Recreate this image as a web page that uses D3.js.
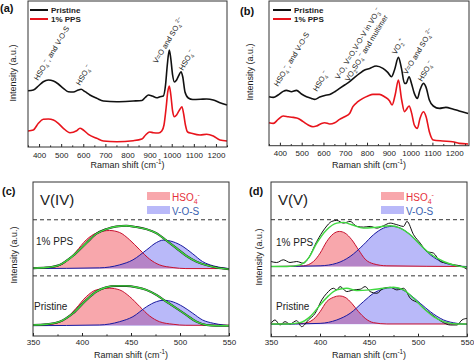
<!DOCTYPE html>
<html>
<head>
<meta charset="utf-8">
<script src="https://cdn.jsdelivr.net/npm/d3@7"></script>
<style>
  body { margin: 0; background: #fff; }
  svg { display: block; font-family: "Liberation Sans", Arial, sans-serif; }
</style>
</head>
<body>
<svg id="fig" width="474" height="363"></svg>
<script>
// ---- data: [Raman shift (cm-1), intensity (a.u.)] ----
const A_PRISTINE = [[350,56.3],[374,57],[397,61],[419,65.3],[442,67],[465,66],[487,63],[510,58.7],[532,55.3],[555,55],[578,57],[590,57.7],[608,55.3],[630,52],[661,48.7],[691,46],[751,45.3],[826,46],[865,46.5],[880,49.5],[895,52],[912,51],[932,49.3],[947,50.3],[962,51],[972,62],[980,82],[989,97],[996,88],[1004,72],[1012,65],[1022,67],[1033,72],[1042,75.3],[1050,70],[1060,55],[1075,49],[1095,47.5],[1130,47.7],[1158,48],[1188,47],[1218,44.3],[1250,42]];
const A_PPS = [[350,16],[374,17],[397,23.7],[419,27.7],[442,28],[465,27],[487,23.7],[510,18.7],[540,14.3],[570,16.3],[585,18.7],[600,17],[623,12.7],[661,8.7],[691,6],[751,5.3],[826,6.3],[865,8],[882,12],[900,15],[917,14.3],[940,14],[955,16],[965,22],[975,40],[982,55],[989,61],[996,52],[1004,36],[1012,30.3],[1022,32],[1035,37],[1046,40.3],[1054,33],[1062,22],[1072,15],[1090,13.7],[1128,12],[1158,12.7],[1188,11],[1218,7],[1250,6]];

const B_PRISTINE = [[350,49],[370,48.3],[392,50.7],[415,54.3],[430,55.3],[453,54],[476,55.3],[499,51.7],[522,49],[545,47.3],[560,46.3],[583,48.7],[606,50.3],[629,51.3],[652,54],[674,57.3],[697,60.7],[720,64],[743,68.3],[766,72.3],[789,75.7],[812,77.3],[842,79.7],[873,77.3],[895,73.3],[912,69],[926,75.7],[944,88.3],[958,77.3],[972,62.3],[979,62.3],[993,69],[1004,62.3],[1017,52.3],[1031,47.3],[1043,55.7],[1059,62.3],[1071,58.3],[1086,45.7],[1104,39.7],[1132,37.3],[1162,38.3],[1193,36.7],[1223,34.7],[1264,32.3]];
const B_PPS = [[350,23],[370,22.3],[392,26.3],[415,29.7],[438,29],[461,28.3],[484,27.3],[507,24],[530,20.7],[552,19],[568,19.7],[591,22.3],[606,23],[629,21.7],[652,23],[674,26.3],[697,29],[720,32.3],[735,39],[758,44],[781,47.3],[804,49.7],[827,51.3],[857,51.3],[880,49],[903,45],[915,40.7],[929,50.7],[944,65.7],[959,45.7],[972,34],[979,35.7],[993,39.7],[1005,32.3],[1017,20.7],[1031,17.3],[1043,27.3],[1059,34],[1071,29],[1086,14],[1104,5.7],[1147,4.7],[1193,4],[1223,2.3],[1264,1.7]];

// (c) V(IV) fits
const C_PPS_HSO4 = [[350,67.7],[370.4,68.7],[384,74.3],[394,84.3],[404.4,96],[414.6,102.7],[428,105.3],[438.4,103.3],[448.6,96],[459,86],[469,76.7],[479,71],[493,68.3],[506,67.3],[550,67.3]];
const C_PPS_VOS = [[350,67.3],[418,68],[438.4,71],[452,76],[466,86],[476,93.3],[483,95.7],[493,94],[503,89.3],[513,82],[523,74.3],[534,70],[544,68],[550,67.3]];
const C_PPS_FIT = [[350,67.7],[363.6,68.3],[377.2,71],[390.8,80],[404.4,92.7],[414.6,102],[424.8,106.7],[435,109.3],[445.2,110],[455.4,108.7],[465.6,106.7],[475.9,102.7],[486.1,95.3],[496.3,87.7],[506.5,80],[516.7,74.3],[526.9,70.7],[537.1,68.3],[550,66.7]];
const C_PRI_HSO4 = [[350,10.7],[370.4,12],[384,17.7],[394,27.7],[404.4,39.3],[414.6,46],[428,47.7],[438.4,46],[448.6,39.3],[459,29.3],[469,20],[479,14.3],[493,11.7],[506,10.7],[550,10.7]];
const C_PRI_VOS = [[350,10.3],[418,11],[438.4,14.3],[452,19.3],[466,29.3],[476,34.3],[483,35.7],[493,34],[503,29.3],[513,22.7],[523,16],[534,12.7],[544,11],[550,10.3]];
const C_PRI_FIT = [[350,11],[363.6,11.7],[377.2,14.3],[390.8,22.7],[404.4,36],[414.6,44.3],[424.8,48.7],[435,50],[445.2,50],[455.4,48.7],[465.6,46],[475.9,41],[486.1,34.3],[496.3,27.7],[506.5,21],[516.7,14.3],[526.9,11],[537.1,10.3],[550,10.3]];

// (d) V(V) fits
const D_PPS_HSO4 = [[350,70],[383,70.7],[393.3,75],[400.1,83.3],[406.9,95],[413.7,102.7],[419.8,105],[425.6,103.3],[432.4,96.7],[439.3,86.7],[446.1,77.3],[454.6,72.7],[468.2,70.7],[550,70]];
const D_PPS_VOS = [[350,70],[400.1,70.7],[417.1,73.3],[430.7,80],[444.4,91.7],[454.6,101.7],[464.8,108.3],[473.3,110],[481.9,108.3],[492.1,101.7],[502.3,91.7],[512.5,81.7],[526.1,74],[539.8,70.7],[550,70]];
const D_PPS_FIT = [[350,70],[366,70],[379.6,71.7],[388.2,78.3],[396.7,93.3],[406.9,106.7],[417.1,113.3],[423.9,114],[432.4,111.7],[444.4,108.3],[458,109.3],[471.6,110.7],[481.9,108.3],[492.1,101.7],[502.3,91.7],[512.5,82.7],[526.1,75],[539.8,70.7],[550,69.3]];
const D_PPS_DATA = [[350,75],[355.8,74],[362.6,76.7],[369.4,74],[376.2,75],[383,73.3],[388.2,78.3],[396.7,95],[405.2,108.3],[412,115],[417.1,116],[423.9,113.3],[430.7,115],[437.6,110],[444.4,109.3],[451.2,110],[458,108.3],[464.8,110.7],[471.6,113.3],[478.4,111.7],[485.3,110],[488.7,115],[495.5,101.7],[502.3,93.3],[509.1,85],[515.9,83.3],[522.7,75],[529.5,73.3],[536.4,71.7],[543.2,70.7],[550,67.3]];
const D_PRI_HSO4 = [[350,12.7],[383,13.3],[393.3,17.3],[400.1,25],[406.9,35],[413.7,39.3],[419.8,40.7],[425.6,39.3],[432.4,33.3],[439.3,25],[446.1,18.3],[454.6,14],[468.2,12.7],[550,12.7]];
const D_PRI_VOS = [[350,12.3],[400.1,13.3],[417.1,16.7],[430.7,23.3],[444.4,35],[454.6,43.3],[464.8,47.7],[473.3,49],[481.9,47.7],[492.1,41.7],[502.3,33.3],[512.5,25],[526.1,16.7],[539.8,13.3],[550,12.3]];
const D_PRI_FIT = [[350,12.7],[366,12.7],[379.6,14],[389.9,20],[400.1,31.7],[408.6,40.7],[417.1,46.7],[427.3,48.3],[437.6,46],[451.2,46.7],[464.8,48.3],[475,49.3],[485.3,46.7],[495.5,38.3],[505.7,28.3],[515.9,20],[526.1,15],[539.8,12.7],[550,12.7]];
const D_PRI_DATA = [[350,13.3],[354.1,16.7],[359.2,11.7],[364.3,15],[369.4,12.7],[376.2,16],[381.3,10],[388.2,16.7],[395,23.3],[401.8,36.7],[406.9,43.3],[413.7,48.3],[417.1,46.7],[420.5,50],[427.3,45],[434.1,46.7],[441,47.3],[446.1,50],[451.2,45],[458,43.3],[464.8,48.3],[471.6,49.3],[478.4,46.7],[485.3,48.3],[492.1,38.3],[500.6,33.3],[505.7,28.3],[512.5,23.3],[519.3,18.3],[526.1,14],[533,11.7],[539.8,11.7],[544.9,16.7],[550,18.3]];

const TOP_TICKS = [400, 500, 600, 700, 800, 900, 1000, 1100, 1200];
const TOP_MINOR = [350, 450, 550, 650, 750, 850, 950, 1050, 1150, 1250];
const FIT_TICKS = [350, 400, 450, 500, 550];
const FIT_MINOR = [375, 425, 475, 525];

const C_DASHES = [116, 60];
const D_DASHES = [116.7, 60.7];

const RED = '#e8141c';
const svg = d3.select('#fig');

// text with sub/superscript pieces
function rich(sel, parts, size) {
  let cur = 0;
  parts.forEach(([t, m]) => {
    const off = m === 'sub' ? size * 0.3 : m === 'sup' ? -size * 0.4 : 0;
    sel.append('tspan')
      .attr('dy', off - cur)
      .attr('font-size', m ? size * 0.7 : size)
      .text(t);
    cur = off;
  });
  return sel;
}

function makeScales(box) {
  const x = d3.scaleLinear().domain(box.x).range([box.left, box.right]);
  const y = d3.scaleLinear().domain(box.y).range([box.bottom, box.top]);
  return { x, y };
}

function drawAxisFrame(g, box, x, ticks, minor, titleY, pad) {
  const ax = g.append('g').attr('transform', `translate(0,${box.bottom})`);
  ax.call(d3.axisBottom(x).tickValues(ticks).tickSize(-3).tickPadding(pad).tickFormat(d3.format('d')));
  ax.append('g').call(d3.axisBottom(x).tickValues(minor).tickSize(-1.6).tickFormat(''));
  ax.selectAll('.domain').remove();
  ax.selectAll('line').attr('stroke', '#222');
  ax.selectAll('text').attr('font-size', 8).attr('fill', '#222').attr('font-family', null);

  g.append('rect')
    .attr('x', box.left).attr('y', box.top)
    .attr('width', box.right - box.left).attr('height', box.bottom - box.top)
    .attr('fill', 'none').attr('stroke', '#333').attr('stroke-width', 1);

  const t = g.append('text')
    .attr('x', (box.left + box.right) / 2).attr('y', titleY)
    .attr('text-anchor', 'middle').attr('fill', '#222');
  rich(t, [['Raman shift (cm'], ['-1', 'sup'], [')']], 9);

  g.append('text')
    .attr('transform', `translate(${box.ylabX},${box.ylabY}) rotate(-90)`)
    .attr('text-anchor', 'middle').attr('font-size', 9).attr('fill', '#222')
    .text('Intensity (a.u.)');
}

const line = (x, y) => d3.line().x(d => x(d[0])).y(d => y(d[1])).curve(d3.curveMonotoneX);

function spectrumPanel(box, series, notes) {
  const g = svg.append('g');
  const { x, y } = makeScales(box);
  series.forEach(s => {
    g.append('path').datum(s.data)
      .attr('d', line(x, y))
      .attr('fill', 'none').attr('stroke', s.color).attr('stroke-width', 1.6);
  });
  drawAxisFrame(g, box, x, TOP_TICKS, TOP_MINOR, 168, 5);

  // legend
  series.forEach((s, i) => {
    const ly = box.top + 9 + i * 9;
    g.append('line').attr('x1', box.legX).attr('x2', box.legX + 18)
      .attr('y1', ly).attr('y2', ly).attr('stroke', s.color).attr('stroke-width', 2);
    g.append('text').attr('x', box.legX + 21).attr('y', ly + 3)
      .attr('font-size', 8).attr('font-weight', 'bold').attr('fill', '#222').text(s.name);
  });

  notes.forEach(n => {
    const t = g.append('text')
      .attr('transform', `translate(${n.at[0]},${n.at[1]}) rotate(-59)`)
      .attr('fill', '#222');
    rich(t, n.parts, 7.5);
  });

  g.append('text').attr('x', box.tagX).attr('y', box.tagY)
    .attr('font-size', 11).attr('font-weight', 'bold').attr('fill', '#111').text(box.tag);
}

function fitPanel(box, rows, dashes) {
  const g = svg.append('g');
  const { x, y } = makeScales(box);
  const HSO4_FILL = 'rgba(240,60,70,0.45)';
  const VOS_FILL = 'rgba(80,80,240,0.4)';

  rows.forEach(r => {
    const area = (data) => d3.area().x(d => x(d[0])).y0(y(d3.min(data, v => v[1]))).y1(d => y(d[1])).curve(d3.curveMonotoneX);
    g.append('path').datum(r.hso4).attr('d', area(r.hso4)).attr('fill', HSO4_FILL);
    g.append('path').datum(r.vos).attr('d', area(r.vos)).attr('fill', VOS_FILL);
    g.append('path').datum(r.hso4).attr('d', line(x, y)).attr('fill', 'none').attr('stroke', '#c8102e').attr('stroke-width', 1);
    g.append('path').datum(r.vos).attr('d', line(x, y)).attr('fill', 'none').attr('stroke', '#1a1aa0').attr('stroke-width', 1);
    g.append('path').datum(r.data).attr('d', line(x, y)).attr('fill', 'none').attr('stroke', '#111').attr('stroke-width', r.data === r.fit ? 2 : 1);
    g.append('path').datum(r.fit).attr('d', line(x, y)).attr('fill', 'none').attr('stroke', '#40d840').attr('stroke-width', 1.4);
    g.append('text').attr('x', r.labX).attr('y', r.labY)
      .attr('font-size', 10).attr('fill', '#222').text(r.name);
  });

  dashes.forEach(v => {
    g.append('line').attr('x1', box.left).attr('x2', box.right)
      .attr('y1', y(v)).attr('y2', y(v))
      .attr('stroke', '#333').attr('stroke-width', 1).attr('stroke-dasharray', '4,3');
  });

  drawAxisFrame(g, box, x, FIT_TICKS, FIT_MINOR, 358, 3);

  g.append('text').attr('x', box.left + 7).attr('y', 205)
    .attr('font-size', 15).attr('fill', '#222').text(box.species);

  const lx = box.legX;
  g.append('rect').attr('x', lx).attr('y', 192).attr('width', 23).attr('height', 8).attr('fill', HSO4_FILL);
  g.append('rect').attr('x', lx).attr('y', 206).attr('width', 23).attr('height', 8).attr('fill', VOS_FILL);
  rich(g.append('text').attr('x', lx + 25).attr('y', 200.5).attr('fill', '#e5323c'), [['HSO'], ['4', 'sub'], ['-', 'sup']], 10);
  g.append('text').attr('x', lx + 25).attr('y', 214.5).attr('font-size', 10).attr('fill', '#3a5fb0').text('V-O-S');

  g.append('text').attr('x', box.tagX).attr('y', 195)
    .attr('font-size', 11).attr('font-weight', 'bold').attr('fill', '#111').text(box.tag);
}

const HSO4 = [['HSO'], ['4', 'sub'], ['−', 'sup']];

spectrumPanel(
  { left: 28, right: 227, top: 1, bottom: 147, x: [350, 1250], y: [0, 146],
    legX: 30, tag: '(a)', tagX: 0, tagY: 12, ylabX: 16, ylabY: 73 },
  [{ name: 'Pristine', color: '#111', data: A_PRISTINE }, { name: '1% PPS', color: RED, data: A_PPS }],
  [
    { at: [38, 81], parts: [...HSO4, [', and V-O-S']] },
    { at: [80, 86], parts: HSO4 },
    { at: [157, 64], parts: [['V=O and SO'], ['4', 'sub'], ['2−', 'sup']] },
    { at: [183, 71], parts: HSO4 }
  ]
);

spectrumPanel(
  { left: 269, right: 469, top: 1, bottom: 145.7, x: [350, 1268], y: [0, 144.7],
    legX: 273, tag: '(b)', tagX: 240, tagY: 15, ylabX: 253, ylabY: 72 },
  [{ name: 'Pristine', color: '#111', data: B_PRISTINE }, { name: '1% PPS', color: RED, data: B_PPS }],
  [
    { at: [278, 87], parts: [...HSO4, [', and V-O-S']] },
    { at: [317, 92], parts: HSO4 },
    { at: [339, 80], parts: [['V-O, V=O,V-O-V in VO'], ['3', 'sub'], ['−', 'sup']] },
    { at: [349, 82], parts: [['VO'], ['2', 'sub'], ['SO'], ['4', 'sub'], ['−', 'sup'], [' and multimer']] },
    { at: [396, 55], parts: [['VO'], ['2', 'sub'], ['+', 'sup']] },
    { at: [407, 75], parts: [['V=O and SO'], ['4', 'sub'], ['2−', 'sup']] },
    { at: [422, 82], parts: HSO4 }
  ]
);

fitPanel(
  { left: 33, right: 229, top: 182, bottom: 336, x: [350, 550], y: [0, 153.7],
    species: 'V(IV)', legX: 147, tag: '(c)', tagX: 2, ylabX: 16.5, ylabY: 255 },
  [
    { name: '1% PPS', hso4: C_PPS_HSO4, vos: C_PPS_VOS, fit: C_PPS_FIT, data: C_PPS_FIT, labX: 36, labY: 245 },
    { name: 'Pristine', hso4: C_PRI_HSO4, vos: C_PRI_VOS, fit: C_PRI_FIT, data: C_PRI_FIT, labX: 34, labY: 310 }
  ],
  C_DASHES
);

fitPanel(
  { left: 271, right: 467, top: 182, bottom: 336.7, x: [350, 550], y: [0, 154.3],
    species: 'V(V)', legX: 381, tag: '(d)', tagX: 249, ylabX: 262, ylabY: 257 },
  [
    { name: '1% PPS', hso4: D_PPS_HSO4, vos: D_PPS_VOS, fit: D_PPS_FIT, data: D_PPS_DATA, labX: 276, labY: 246 },
    { name: 'Pristine', hso4: D_PRI_HSO4, vos: D_PRI_VOS, fit: D_PRI_FIT, data: D_PRI_DATA, labX: 276, labY: 310 }
  ],
  D_DASHES
);
</script>
</body>
</html>
